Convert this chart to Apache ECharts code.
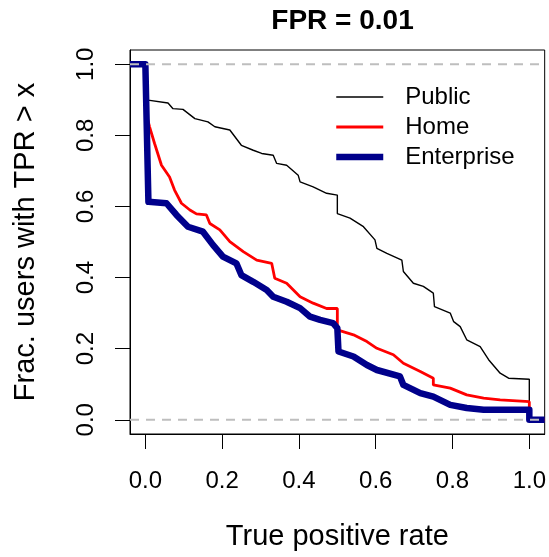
<!DOCTYPE html>
<html>
<head>
<meta charset="utf-8">
<script src="https://cdn.jsdelivr.net/npm/echarts@6/dist/echarts.min.js"></script>
<style>
  html, body { margin: 0; padding: 0; background: #ffffff; }
  #chart { width: 549px; height: 557px; }
</style>
</head>
<body>
<div id="chart"></div>
<script>
// ---- data ----
var titleText = 'FPR = 0.01';
var xAxisTitle = 'True positive rate';
var yAxisTitle = 'Frac. users with TPR > x';
var tickValues = [0, 0.2, 0.4, 0.6, 0.8, 1.0];
var refLevels = [0, 1];
var seriesNames = ['Public', 'Home', 'Enterprise'];

var publicX = [-0.04, 0.0, 0.0, 0.007, 0.059, 0.072, 0.098, 0.129, 0.163, 0.181, 0.220, 0.250, 0.281, 0.303, 0.333, 0.342, 0.368, 0.398, 0.403, 0.437, 0.472, 0.500, 0.500, 0.533, 0.568, 0.598, 0.603, 0.629, 0.668, 0.672, 0.698, 0.724, 0.750, 0.753, 0.794, 0.803, 0.820, 0.837, 0.872, 0.894, 0.924, 0.946, 1.000, 1.000, 1.04];
var publicY = [1.0, 1.0, 0.905, 0.899, 0.891, 0.875, 0.873, 0.847, 0.838, 0.824, 0.815, 0.772, 0.758, 0.749, 0.744, 0.721, 0.716, 0.688, 0.669, 0.655, 0.637, 0.632, 0.580, 0.567, 0.543, 0.506, 0.482, 0.468, 0.449, 0.417, 0.384, 0.375, 0.356, 0.318, 0.300, 0.276, 0.262, 0.225, 0.206, 0.169, 0.131, 0.117, 0.114, 0.0, 0.0];

var homeX = [-0.04, 0.0, 0.0, 0.011, 0.024, 0.042, 0.063, 0.076, 0.094, 0.116, 0.133, 0.159, 0.168, 0.194, 0.220, 0.255, 0.290, 0.329, 0.337, 0.368, 0.403, 0.437, 0.472, 0.500, 0.500, 0.542, 0.577, 0.603, 0.646, 0.672, 0.716, 0.750, 0.750, 0.794, 0.837, 0.881, 0.924, 1.000, 1.000, 1.04];
var homeY = [1.0, 1.0, 0.870, 0.824, 0.777, 0.716, 0.683, 0.646, 0.609, 0.590, 0.579, 0.576, 0.552, 0.534, 0.501, 0.473, 0.449, 0.440, 0.398, 0.384, 0.346, 0.328, 0.313, 0.313, 0.253, 0.239, 0.220, 0.201, 0.183, 0.159, 0.136, 0.117, 0.098, 0.089, 0.070, 0.061, 0.056, 0.051, 0.0, 0.0];

var enterpriseX = [-0.04, 0.0, 0.008, 0.055, 0.081, 0.111, 0.150, 0.176, 0.202, 0.237, 0.250, 0.281, 0.316, 0.333, 0.368, 0.403, 0.429, 0.455, 0.489, 0.500, 0.503, 0.542, 0.577, 0.603, 0.663, 0.672, 0.716, 0.750, 0.794, 0.837, 0.881, 1.000, 1.000, 1.04];
var enterpriseY = [1.0, 1.0, 0.613, 0.609, 0.576, 0.543, 0.529, 0.492, 0.459, 0.440, 0.407, 0.388, 0.365, 0.346, 0.332, 0.314, 0.290, 0.281, 0.272, 0.258, 0.192, 0.178, 0.154, 0.140, 0.122, 0.098, 0.075, 0.065, 0.042, 0.033, 0.028, 0.028, 0.0, 0.0];

function zip(xs, ys) { return xs.map(function (x, i) { return [x, ys[i]]; }); }

var FONT = 'Liberation Sans, Arial, Helvetica, sans-serif';
var chart = echarts.init(document.getElementById('chart'), null, { renderer: 'canvas' });

var refSeries = refLevels.map(function (lv) {
  return {
    type: 'line', silent: true, symbol: 'none', z: 10,
    data: [[-0.04, lv], [1.04, lv]],
    lineStyle: { color: '#bebebe', width: 2, type: [9, 7] }
  };
});

var option = {
  animation: false,
  backgroundColor: '#ffffff',
  title: {
    text: titleText, left: 337.5, top: 2, textAlign: 'center',
    textStyle: { fontFamily: FONT, fontSize: 28, fontWeight: 'bold', color: '#000', lineHeight: 28 }
  },
  legend: {
    data: seriesNames, orient: 'vertical', left: 328, top: 80,
    itemWidth: 47, itemHeight: 24, itemGap: 6,
    lineStyle: { width: 'inherit' },
    itemStyle: { opacity: 0, color: 'transparent', borderWidth: 0 },
    textStyle: { fontFamily: FONT, fontSize: 24, color: '#000', lineHeight: 24, padding: [0, 0, 0, 17] }
  },
  grid: {
    left: 130, right: 4, top: 50, bottom: 123,
    show: true, borderColor: '#000', borderWidth: 1, backgroundColor: 'transparent'
  },
  xAxis: {
    type: 'value', min: -0.04, max: 1.04,
    name: xAxisTitle, nameLocation: 'middle', nameGap: 88,
    nameTextStyle: { fontFamily: FONT, fontSize: 29, color: '#000', lineHeight: 29 },
    axisLine: { show: true, onZero: false, lineStyle: { color: '#000', width: 1 } },
    splitLine: { show: false },
    axisTick: { show: true, inside: false, length: 15, customValues: tickValues, lineStyle: { color: '#000', width: 1 } },
    axisLabel: { customValues: tickValues, margin: 35, fontFamily: FONT, fontSize: 24, color: '#000',
      formatter: function (v) { return v.toFixed(1); } }
  },
  yAxis: {
    type: 'value', min: -0.04, max: 1.04,
    name: yAxisTitle, nameLocation: 'middle', nameGap: 90,
    nameTextStyle: { fontFamily: FONT, fontSize: 29, color: '#000', lineHeight: 29 },
    axisLine: { show: true, onZero: false, lineStyle: { color: '#000', width: 1 } },
    splitLine: { show: false },
    axisTick: { show: true, inside: false, length: 15, customValues: tickValues, lineStyle: { color: '#000', width: 1 } },
    axisLabel: { customValues: tickValues, rotate: 90, margin: 32, fontFamily: FONT, fontSize: 24, color: '#000',
      formatter: function (v) { return v.toFixed(1); } }
  },
  series: [
    { name: seriesNames[0], type: 'line', symbol: 'none', z: 2, data: zip(publicX, publicY),
      lineStyle: { color: '#000000', width: 1.4 }, itemStyle: { color: '#000000' } },
    { name: seriesNames[1], type: 'line', symbol: 'none', z: 3, data: zip(homeX, homeY),
      lineStyle: { color: '#ff0000', width: 2.8 }, itemStyle: { color: '#ff0000' } },
    { name: seriesNames[2], type: 'line', symbol: 'none', z: 4, data: zip(enterpriseX, enterpriseY),
      lineStyle: { color: '#00008b', width: 6.5, join: 'round' }, itemStyle: { color: '#00008b' } }
  ].concat(refSeries)
};
chart.setOption(option);
</script>
</body>
</html>
